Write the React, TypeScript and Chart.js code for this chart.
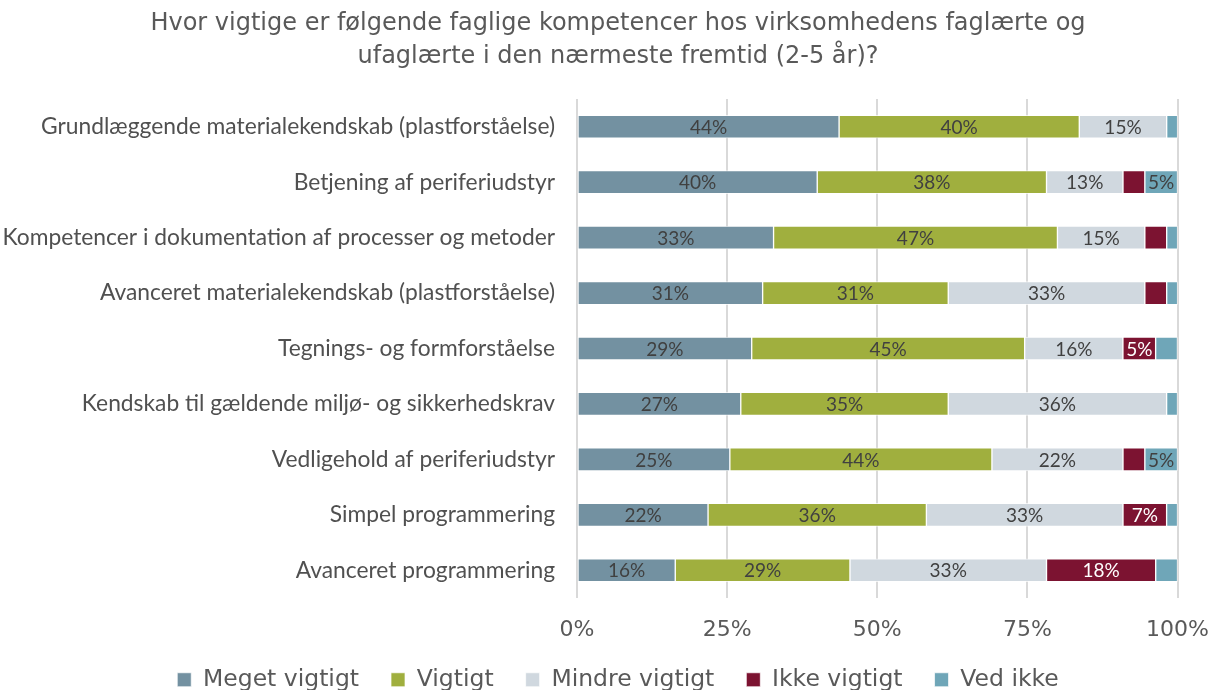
import React, { useEffect, useRef } from "react";
import { Chart, registerables } from "chart.js";

Chart.register(...registerables);

const categories = [
  "Grundlæggende materialekendskab (plastforståelse)",
  "Betjening af periferiudstyr",
  "Kompetencer i dokumentation af processer og metoder",
  "Avanceret materialekendskab (plastforståelse)",
  "Tegnings- og formforståelse",
  "Kendskab til gældende miljø- og sikkerhedskrav",
  "Vedligehold af periferiudstyr",
  "Simpel programmering",
  "Avanceret programmering",
];

const megetVigtigt = [43.64, 40.0, 32.73, 30.91, 29.09, 27.27, 25.45, 21.82, 16.36];
const vigtigt = [40.0, 38.18, 47.27, 30.91, 45.45, 34.55, 43.64, 36.36, 29.09];
const mindreVigtigt = [14.55, 12.73, 14.55, 32.73, 16.36, 36.36, 21.82, 32.73, 32.73];
const ikkeVigtigt = [0, 3.64, 3.64, 3.64, 5.45, 0, 3.64, 7.27, 18.18];
const vedIkke = [1.82, 5.45, 1.82, 1.82, 3.64, 1.82, 5.45, 1.82, 3.64];

const seriesNames = ["Meget vigtigt", "Vigtigt", "Mindre vigtigt", "Ikke vigtigt", "Ved ikke"];
const seriesColors = ["#7391A1", "#A0AF3E", "#D0D8DF", "#7C1331", "#6FA6B8"];
const labelColors = ["#404040", "#404040", "#404040", "#FFFFFF", "#404040"];
const xTicks = [0, 25, 50, 75, 100];

const titleLines = [
  "Hvor vigtige er følgende faglige kompetencer hos virksomhedens faglærte og",
  "ufaglærte i den nærmeste fremtid (2-5 år)?",
];

const barLabelPlugin = {
  id: "barLabels",
  afterDatasetsDraw(chart: any) {
    const ctx = chart.ctx;
    ctx.save();
    ctx.font = "19px Lato";
    ctx.textAlign = "center";
    ctx.textBaseline = "middle";
    chart.data.datasets.forEach((ds: any, di: number) => {
      const meta = chart.getDatasetMeta(di);
      meta.data.forEach((bar: any, i: number) => {
        const v = ds.data[i];
        if (v < 5) return;
        const p = bar.getProps(["x", "y", "base"], true);
        ctx.fillStyle = labelColors[di];
        ctx.fillText(Math.round(v) + "%", (p.x + p.base) / 2, p.y + 1);
      });
    });
    ctx.restore();
  },
};

// let axis labels extend beyond their (tightened) scale boxes
const noLabelClipPlugin = {
  id: "noLabelClip",
  beforeDraw(chart: any) {
    Object.values(chart.scales).forEach((s: any) => {
      s._computeLabelArea = () => undefined;
    });
  },
};

export default function App() {
  const ref = useRef<HTMLCanvasElement | null>(null);
  useEffect(() => {
    document.body.style.margin = "0";
    const allData = [megetVigtigt, vigtigt, mindreVigtigt, ikkeVigtigt, vedIkke];
    const chart = new Chart(ref.current as HTMLCanvasElement, {
      type: "bar",
      data: {
        labels: categories,
        datasets: seriesNames.map((name, i) => ({
          label: name,
          data: allData[i],
          backgroundColor: seriesColors[i],
          borderColor: "rgba(255,255,255,0.7)",
          borderWidth: 1,
          borderSkipped: false,
          barThickness: 23,
        })),
      },
      plugins: [barLabelPlugin, noLabelClipPlugin],
      options: {
        indexAxis: "y",
        responsive: false,
        animation: false,
        layout: { padding: { top: 7, left: 58, right: 34, bottom: 1 } },
        scales: {
          x: {
            stacked: true,
            min: 0,
            max: 100,
            afterBuildTicks: (scale: any) => {
              scale.ticks = xTicks.map((v) => ({ value: v }));
            },
            afterFit: (scale: any) => {
              scale.height = 38;
            },
            ticks: {
              callback: (v: any) => v + "%",
              font: { family: "DejaVu Sans", size: 22, lineHeight: 2.64 },
              color: "#595959",
              padding: 3,
            },
            grid: { color: "#D9D9D9", lineWidth: 2, drawTicks: false },
            border: { display: false },
          },
          y: {
            stacked: true,
            afterFit: (scale: any) => {
              scale.width = 519;
            },
            ticks: {
              font: { family: "Lato", size: 22.8 },
              color: "#505050",
              padding: 14,
            },
            grid: { display: false },
            border: { display: false },
          },
        },
        plugins: {
          title: {
            display: true,
            text: titleLines,
            font: { family: "DejaVu Sans", size: 24, weight: "normal", lineHeight: 1.375 },
            color: "#595959",
            padding: { top: 0, bottom: 26 },
          },
          legend: {
            position: "bottom",
            maxHeight: 54,
            labels: {
              font: { family: "DejaVu Sans", size: 23.5, lineHeight: 1.0 },
              color: "#595959",
              boxWidth: 14,
              boxHeight: 14,
              padding: 32,
            },
          },
          tooltip: { enabled: false },
        },
      },
    } as any);
    return () => chart.destroy();
  }, []);
  return (
    <div style={{ width: 1212, height: 691 }}>
      <canvas ref={ref} width={1212} height={691} />
    </div>
  );
}
